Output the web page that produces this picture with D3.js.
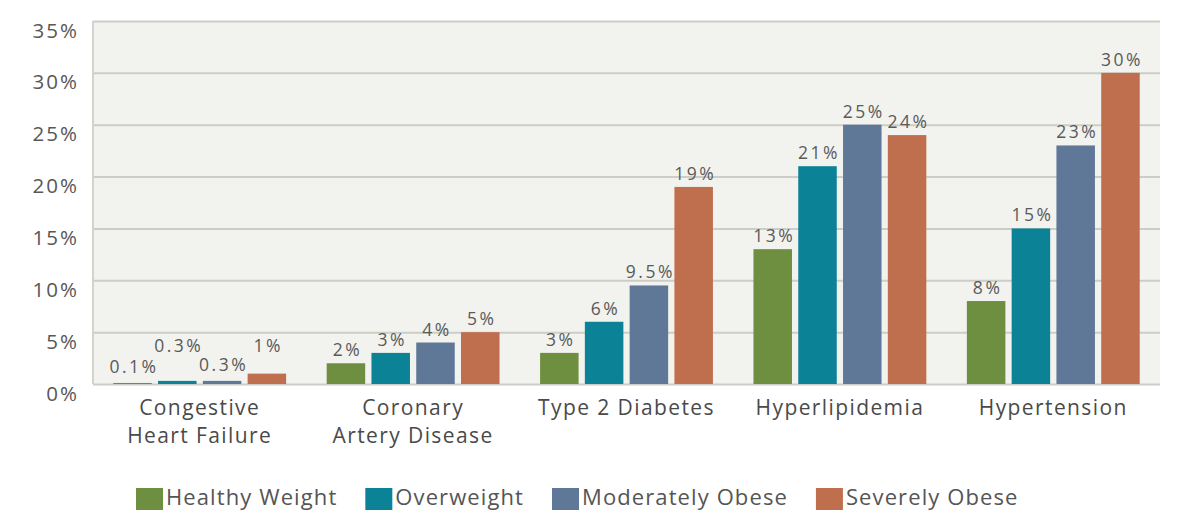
<!DOCTYPE html>
<html>
<head>
<meta charset="utf-8">
<script src="https://cdn.jsdelivr.net/npm/d3@7"></script>
<style>
  html, body { margin: 0; padding: 0; background: #ffffff; }
  svg { display: block; }
  text { font-family: "Open Sans", Lato, sans-serif; }
</style>
</head>
<body>
<svg id="chart" width="1179" height="513"></svg>
<script>
// Chart data
const categories = [
  ["Congestive", "Heart Failure"],
  ["Coronary", "Artery Disease"],
  ["Type 2 Diabetes"],
  ["Hyperlipidemia"],
  ["Hypertension"]
];
const seriesNames = ["Healthy Weight", "Overweight", "Moderately Obese", "Severely Obese"];
const healthyWeight   = [0.1, 2, 3, 13, 8];
const overweight      = [0.3, 3, 6, 21, 15];
const moderatelyObese = [0.3, 4, 9.5, 25, 23];
const severelyObese   = [1, 5, 19, 24, 30];
const seriesValues = [healthyWeight, overweight, moderatelyObese, severelyObese];
const yTicks = [0, 5, 10, 15, 20, 25, 30, 35];
const colors = ["#6f8f40", "#0c8297", "#5f7898", "#c06f4e"];

const svg = d3.select("#chart");
const margin = { left: 93, right: 19, top: 21, bottom: 129 };
const W = 1179, H = 513;
const innerW = W - margin.left - margin.right;
const innerH = H - margin.top - margin.bottom;

const g = svg.append("g").attr("transform", `translate(${margin.left},${margin.top})`);

const x0 = d3.scaleBand().domain(d3.range(categories.length)).range([0, innerW]).paddingInner(0.19).paddingOuter(0.095);
const x1 = d3.scaleBand().domain(d3.range(seriesNames.length)).range([0, x0.bandwidth()]).paddingInner(0.14);
const y = d3.scaleLinear().domain([0, 35]).range([innerH, 0]);

// plot background
g.append("rect").attr("x", 0).attr("y", 0).attr("width", innerW).attr("height", innerH).attr("fill", "#f2f3ee");

// horizontal gridlines
const grid = d3.axisLeft(y).tickValues(yTicks).tickSize(-innerW).tickFormat("");
g.append("g").call(grid)
  .call(s => s.select(".domain").remove())
  .selectAll("line").attr("stroke", "#cdcdc8").attr("stroke-width", 2);

// left axis line
g.append("line").attr("x1", 0).attr("x2", 0).attr("y1", 0).attr("y2", innerH)
  .attr("stroke", "#d2d2ce").attr("stroke-width", 2);

// y tick labels
const yAxis = d3.axisLeft(y).tickValues(yTicks).tickSize(0).tickPadding(14).tickFormat(d => d + "%");
g.append("g").call(yAxis)
  .call(s => s.select(".domain").remove())
  .selectAll("text")
  .attr("font-size", 20.5).attr("fill", "#585858").attr("dy", "0.78em")
  .attr("letter-spacing", 2)
  .style("font-family", "'Open Sans', sans-serif");

// bars
const groups = g.selectAll(".grp").data(categories).join("g")
  .attr("class", "grp")
  .attr("transform", (d, i) => `translate(${x0(i)},0)`);

groups.each(function (cat, ci) {
  const gg = d3.select(this);
  const vals = seriesValues.map(s => s[ci]);
  gg.selectAll("rect").data(vals).join("rect")
    .attr("x", (d, si) => x1(si))
    .attr("width", x1.bandwidth())
    .attr("y", d => y(d))
    .attr("height", d => innerH - y(d))
    .attr("fill", (d, si) => colors[si]);

  // value labels; very short bars get staggered labels so they don't collide
  const small = d3.max(vals) < 2;
  gg.selectAll("text.val").data(vals).join("text")
    .attr("class", "val")
    .attr("x", (d, si) => x1(si) + x1.bandwidth() / 2 + 1.5)
    .attr("y", (d, si) => {
      if (small) return (si % 2 === 1) ? y(d3.max(vals)) - 22 : y(d) - 10;
      return y(d) - 7;
    })
    .attr("text-anchor", "middle")
    .attr("font-size", 17.5)
    .attr("letter-spacing", 2.5)
    .attr("fill", "#5a5a5a")
    .text(d => d + "%");
});

// category labels
const xl = g.append("g").attr("transform", `translate(0,${innerH})`);
categories.forEach((lines, i) => {
  const cx = x0(i) + x0.bandwidth() / 2;
  const t = xl.append("text")
    .attr("x", cx)
    .attr("y", 31)
    .attr("text-anchor", "middle")
    .attr("font-size", 21)
    .attr("letter-spacing", 1.4)
    .attr("fill", "#4a4a4a");
  lines.forEach((ln, k) => {
    t.append("tspan").attr("x", cx).attr("dy", k === 0 ? 0 : 28).text(ln);
  });
});

// legend
const legend = svg.append("g").attr("transform", "translate(136,488)");
let lx = 0;
seriesNames.forEach((name, i) => {
  const item = legend.append("g").attr("transform", `translate(${lx},0)`);
  item.append("rect").attr("x", 0).attr("y", 0).attr("width", 27).attr("height", 22).attr("fill", colors[i]);
  const t = item.append("text").attr("x", 30).attr("y", 17)
    .attr("font-size", 22).attr("letter-spacing", 1.1).attr("fill", "#555").text(name);
  lx += 30 + t.node().getComputedTextLength() + 28;
});
</script>
</body>
</html>
